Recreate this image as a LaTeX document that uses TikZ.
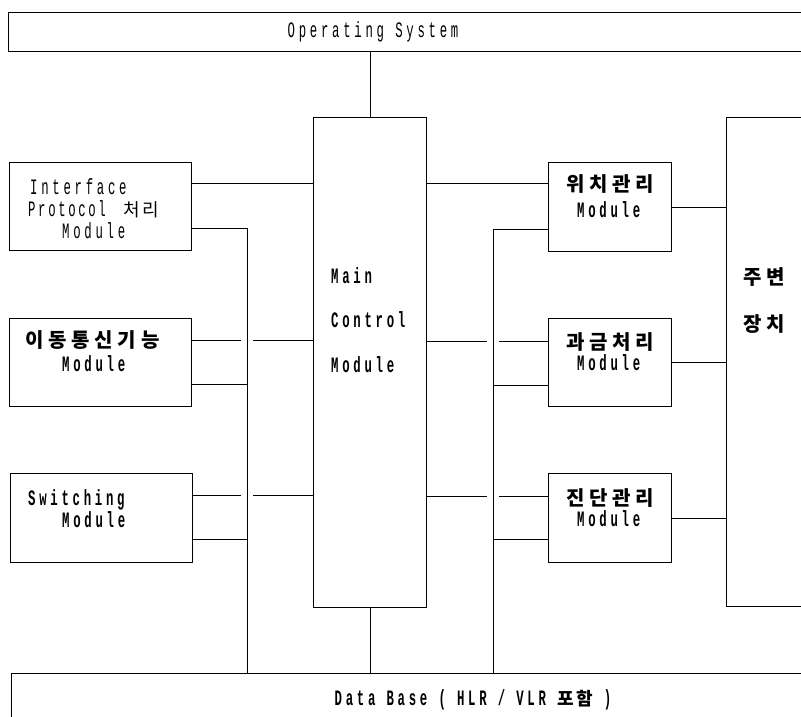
\documentclass[tikz,border=0pt]{standalone}
\usepackage{fontspec}
\newfontfamily\lat[FakeStretch=0.56,LetterSpace=17]{Liberation Mono}
\newfontfamily\latn[FakeStretch=0.56,LetterSpace=12]{Liberation Mono}
\newfontfamily\kor[LetterSpace=24]{Noto Sans CJK KR}
\newfontfamily\kors[LetterSpace=14]{Noto Sans CJK KR}
\tikzset{
  box/.style={draw, line width=0.8pt, inner sep=0pt, anchor=north west},
  wire/.style={line width=0.8pt},
  txt/.style={inner sep=0pt, anchor=base west, font=\lat\fontsize{22}{22}\selectfont},
  btxt/.style={inner sep=0pt, anchor=base west, font=\lat\bfseries\fontsize{22}{22}\selectfont},
  ktxt/.style={inner sep=0pt, anchor=base west, font=\kor\bfseries\fontsize{20}{20}\selectfont},
}
\begin{document}
\begin{tikzpicture}[x=1pt,y=-1pt]
\useasboundingbox (0,0) rectangle (801,717);
\clip (0,0) rectangle (801,717);
% boxes
\node[box, minimum width=840, minimum height=39] (os) at (8,12) {};
\node[box, minimum width=113, minimum height=490] (main) at (313,117) {};
\node[box, minimum width=182, minimum height=88] (ifc) at (9,162) {};
\node[box, minimum width=182, minimum height=88] (ido) at (9,318) {};
\node[box, minimum width=182, minimum height=89] (sw) at (10,473) {};
\node[box, minimum width=123, minimum height=89] (loc) at (548,162) {};
\node[box, minimum width=123, minimum height=88] (bill) at (548,318) {};
\node[box, minimum width=123, minimum height=89] (diag) at (548,473) {};
\node[box, minimum width=120, minimum height=489] (per) at (726,117) {};
\node[box, minimum width=840, minimum height=80] (db) at (11,673) {};
% texts
\node[txt, anchor=base] (tos) at (373,38) {Operating System};
\node[txt] (t1) at (30,194) {Interface};
\node[txt, font=\latn\fontsize{22}{22}\selectfont] (t2) at (28,216) {Protocol};
\node[txt, font=\kors\fontsize{18}{18}\selectfont] (t2k) at (123,216) {처리};
\node[txt] (t3) at (62,238) {Module};
\node[ktxt] (t4) at (25,347) {이동통신기능};
\node[btxt] (t5) at (62,371) {Module};
\node[btxt] (t6) at (28,505) {Switching};
\node[btxt] (t7) at (62,527) {Module};
\node[btxt] (t8) at (331,283) {Main};
\node[btxt] (t9) at (331,327) {Control};
\node[btxt] (t10) at (331,372) {Module};
\node[ktxt] (t11) at (566,191) {위치관리};
\node[btxt] (t12) at (577,217) {Module};
\node[ktxt] (t13) at (566,349) {과금처리};
\node[btxt] (t14) at (577,370) {Module};
\node[ktxt] (t15) at (566,505) {진단관리};
\node[btxt] (t16) at (577,526) {Module};
\node[ktxt] (t17) at (743,284) {주변};
\node[ktxt] (t18) at (743,331) {장치};
\node[btxt, anchor=base] (tdb) at (473,705) {Data Base ( HLR / VLR {\kors\bfseries\fontsize{18}{18}\selectfont 포함} )};
% helper coordinates
\coordinate (y183) at (0,183);
\coordinate (lb) at (247,228);
\coordinate (y340a) at (241,340);
\coordinate (y340b) at (253,340);
\coordinate (y384) at (0,384);
\coordinate (y495a) at (241,495);
\coordinate (y495b) at (253,495);
\coordinate (y539) at (0,539);
\coordinate (rb) at (493,229);
\coordinate (y341a) at (487,341);
\coordinate (y341b) at (499,341);
\coordinate (y385) at (0,385);
\coordinate (y496a) at (487,496);
\coordinate (y496b) at (499,496);
\coordinate (y207) at (0,207);
\coordinate (y362) at (0,362);
\coordinate (y518) at (0,518);
% left connectors
\draw[wire] (ifc.east |- y183) -- (main.west |- y183);
\draw[wire] (ifc.east |- lb) -- (lb) -- (lb |- db.north);
\draw[wire] (ido.east |- y340a) -- (y340a);
\draw[wire] (y340b) -- (main.west |- y340b);
\draw[wire] (ido.east |- y384) -- (lb |- y384);
\draw[wire] (sw.east |- y495a) -- (y495a);
\draw[wire] (y495b) -- (main.west |- y495b);
\draw[wire] (sw.east |- y539) -- (lb |- y539);
% middle connectors
\draw[wire] (main.north |- os.south) -- (main.north);
\draw[wire] (main.south) -- (main.south |- db.north);
% right connectors
\draw[wire] (main.east |- y183) -- (loc.west |- y183);
\draw[wire] (rb |- db.north) -- (rb) -- (loc.west |- rb);
\draw[wire] (main.east |- y341a) -- (y341a);
\draw[wire] (y341b) -- (bill.west |- y341b);
\draw[wire] (rb |- y385) -- (bill.west |- y385);
\draw[wire] (main.east |- y496a) -- (y496a);
\draw[wire] (y496b) -- (diag.west |- y496b);
\draw[wire] (rb |- y539) -- (diag.west |- y539);
\draw[wire] (loc.east |- y207) -- (per.west |- y207);
\draw[wire] (bill.east |- y362) -- (per.west |- y362);
\draw[wire] (diag.east |- y518) -- (per.west |- y518);
\end{tikzpicture}
\end{document}
